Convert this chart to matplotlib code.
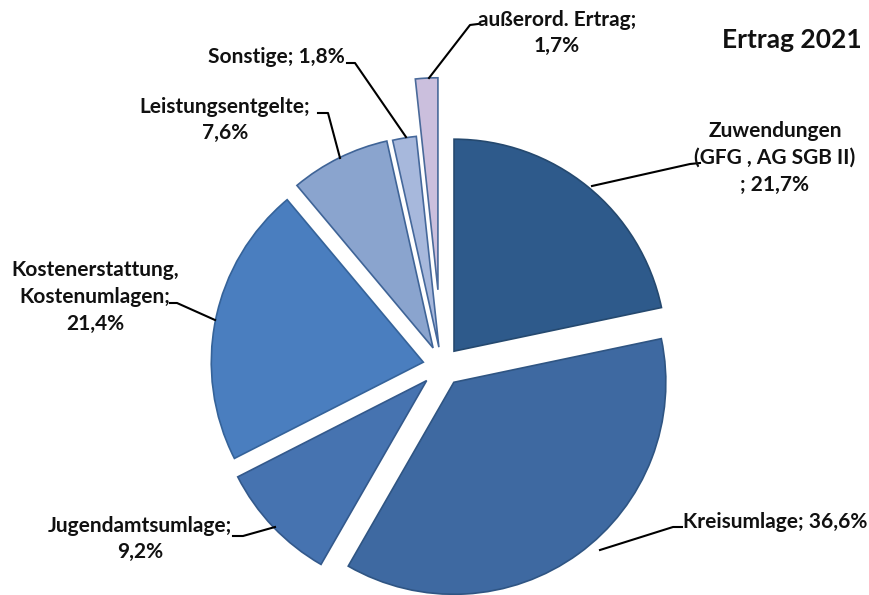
import matplotlib
matplotlib.use("Agg")
import matplotlib.pyplot as plt

# data, clockwise from 12 o'clock
labels = ["Zuwendungen\n(GFG , AG SGB II)\n; 21,7%", "Kreisumlage; 36,6%",
          "Jugendamtsumlage;\n9,2%", "Kostenerstattung,\nKostenumlagen;\n21,4%",
          "Leistungsentgelte;\n7,6%", "Sonstige; 1,8%", "außerord. Ertrag;\n1,7%"]
shares = [21.7, 36.6, 9.2, 21.4, 7.6, 1.8, 1.7]
explode = [0.09, 0.095, 0.1, 0.09, 0.095, 0.09, 0.36]
colors = ["#2E5A8B", "#3E69A1", "#4673B0", "#4A7EBF", "#8AA4CE", "#A7B8DC", "#CBBFDD"]
edges = ["#25496F", "#2F5583", "#33598C", "#35639A", "#3F6497", "#45689B", "#4A6A9A"]

W, H = 869, 595
fig = plt.figure(figsize=(W / 100, H / 100), dpi=100)
ax = fig.add_axes([0, 0, 1, 1])

cx, cy, r = 442, H - 366, 212
# matplotlib takes explode as absolute offset, so scale by radius
wedges, _ = ax.pie(shares, explode=[e * r for e in explode], colors=colors,
                   startangle=90, counterclock=False, radius=r, center=(cx, cy),
                   frame=True)
for w, ec in zip(wedges, edges):
    w.set_edgecolor(ec)
    w.set_linewidth(1.2)
ax.set_xlim(0, W)
ax.set_ylim(0, H)
ax.set_aspect("equal")
ax.axis("off")

font = dict(family="Lato", weight="bold", fontsize=15, color="#111111",
            linespacing=1.42)

# label positions (pixel, from top) and leader lines
label_pos = [(775, 158), (775, 522), (140, 539), (95, 297), (225, 120),
             (276, 57), (557, 33)]
leaders = [[(700, 163), (690, 164), (592, 186)],
           [(682, 527), (673, 527), (600, 550)],
           [(233, 536), (243, 536), (275, 527)],
           [(170, 303), (177, 303), (215, 320)],
           [(318, 113), (328, 113), (340, 158)],
           [(347, 63), (355, 63), (406, 137)],
           [(478, 24), (470, 25), (429, 78)]]

for lab, (x, y), pts in zip(labels, label_pos, leaders):
    ax.text(x, H - y, lab, ha="center", va="center", **font)
    ax.plot([p[0] for p in pts], [H - p[1] for p in pts], color="black", lw=1.5)

ax.text(792, H - 40, "Ertrag 2021", ha="center", va="center", family="Lato",
        weight="bold", fontsize=19, color="#111111")

fig.savefig("out.png", dpi=100)
